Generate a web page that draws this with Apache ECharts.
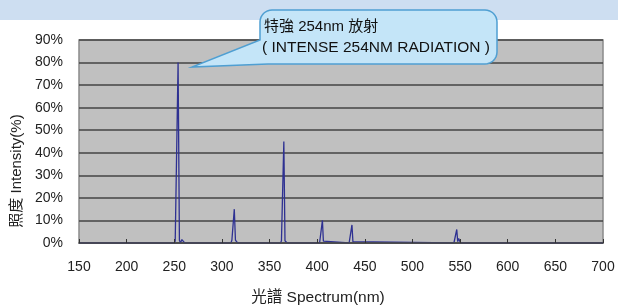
<!DOCTYPE html>
<html><head><meta charset="utf-8">
<script src="https://cdn.jsdelivr.net/npm/echarts@6/dist/echarts.min.js"></script>
<style>html,body{margin:0;padding:0;background:#fff;}#c{width:618px;height:306px;}</style>
</head><body><div id="c"></div>
<script>
const wavelengths = [150, 250.5, 251, 252.6, 254, 255.4, 256, 256.5, 257.5, 258, 260, 261,
  309.5, 310.5, 311.8, 313, 314.2, 315.5, 316.5,
  361.5, 362.5, 363.8, 365, 366.2, 367.5, 368.5,
  402.5, 403.5, 404.5, 405.5, 406.5, 407.5,
  433.5, 434.5, 435.5, 436.5, 437.5, 438.5,
  543.5, 544.5, 545.5, 546.5, 547.5, 548.5, 549.5, 550.5, 700];
const intensities = [0, 0, 1.2, 1.2, 80, 1.2, 1.2, 0, 0, 1.5, 1.5, 0,
  0, 1.3, 1.3, 15, 1.3, 1.3, 0,
  0, 1.0, 1.0, 45, 1.0, 1.0, 0,
  0, 0.8, 0.8, 10, 0.8, 0,
  0, 0.6, 0.6, 8, 0.6, 0,
  0, 0.6, 0.6, 6, 0.6, 2, 2, 0, 0];
const yTicks = [0, 10, 20, 30, 40, 50, 60, 70, 80, 90];
const xName = '光譜 Spectrum(nm)';
const yName = '照度 Intensity(%)';
const calloutLine1 = '特強 254nm 放射';
const calloutLine2 = '( INTENSE 254NM RADIATION )';

const FONT = "'Liberation Sans', Arial, 'Noto Sans CJK TC', sans-serif";

// callout bubble outline (decoration)
function bubblePoints(x0, y0, x1, y1, r, tailBottomX, tip, tailTopY) {
  const pts = [];
  function arc(cx, cy, a0, a1) {
    for (let k = 0; k <= 8; k++) {
      const a = a0 + (a1 - a0) * k / 8;
      pts.push([cx + r * Math.cos(a), cy + r * Math.sin(a)]);
    }
  }
  arc(x0 + r, y0 + r, Math.PI, Math.PI * 1.5);
  arc(x1 - r, y0 + r, Math.PI * 1.5, Math.PI * 2);
  arc(x1 - r, y1 - r, 0, Math.PI * 0.5);
  pts.push([tailBottomX, y1]);
  pts.push(tip);
  pts.push([x0, tailTopY]);
  return pts;
}

const chart = echarts.init(document.getElementById('c'), null, {renderer: 'canvas'});
chart.setOption({
  animation: false,
  backgroundColor: '#ffffff',
  grid: {left: 79, right: 15, top: 40, bottom: 63, show: true, backgroundColor: '#c0c0c0', borderColor: '#8a8a8a', borderWidth: 1.5},
  xAxis: {
    type: 'value', min: 150, max: 700, interval: 50, z: 5,
    axisLine: {show: true, lineStyle: {color: '#4a4a4a', width: 1.5}},
    axisTick: {show: true, inside: true, length: 4, lineStyle: {color: '#333'}},
    axisLabel: {margin: 17, fontSize: 14, color: '#222', fontFamily: FONT},
    splitLine: {show: false}
  },
  yAxis: {
    type: 'value', min: 0, max: 90, interval: 10,
    axisLine: {show: false}, axisTick: {show: false},
    axisLabel: {margin: 16, fontSize: 14, color: '#222', fontFamily: FONT, formatter: '{value}%'},
    splitLine: {show: true, lineStyle: {color: '#444', width: 1.5}}
  },
  series: [{
    type: 'line', showSymbol: false, silent: true, z: 2,
    data: wavelengths.map((w, i) => [w, intensities[i]]),
    lineStyle: {color: '#2e3192', width: 1.3},
    itemStyle: {color: '#2e3192'}
  }],
  graphic: [
    {type: 'rect', shape: {x: 0, y: 0, width: 618, height: 20}, z: -10,
      style: {fill: '#cddef1'}},
    {type: 'polygon', z: 100,
      shape: {points: bubblePoints(260, 10, 497, 64, 12, 268, [192, 67], 40)},
      style: {fill: '#c4e5f8', stroke: '#4f9fd2', lineWidth: 1.5}},
    {type: 'text', z: 101, left: 264, top: 19, style: {text: calloutLine1, font: "15px " + FONT, fill: '#111'}},
    {type: 'text', z: 101, left: 262, top: 40, style: {text: calloutLine2, font: "15.5px " + FONT, fill: '#111'}},
    {type: 'text', z: 101, x: 318, y: 298, style: {text: xName, font: "15.5px " + FONT, fill: '#222', align: 'center', verticalAlign: 'middle'}},
    {type: 'text', z: 101, x: 17, y: 171, rotation: Math.PI / 2, style: {text: yName, font: "15px " + FONT, fill: '#222', align: 'center', verticalAlign: 'middle'}}
  ]
});
</script></body></html>
